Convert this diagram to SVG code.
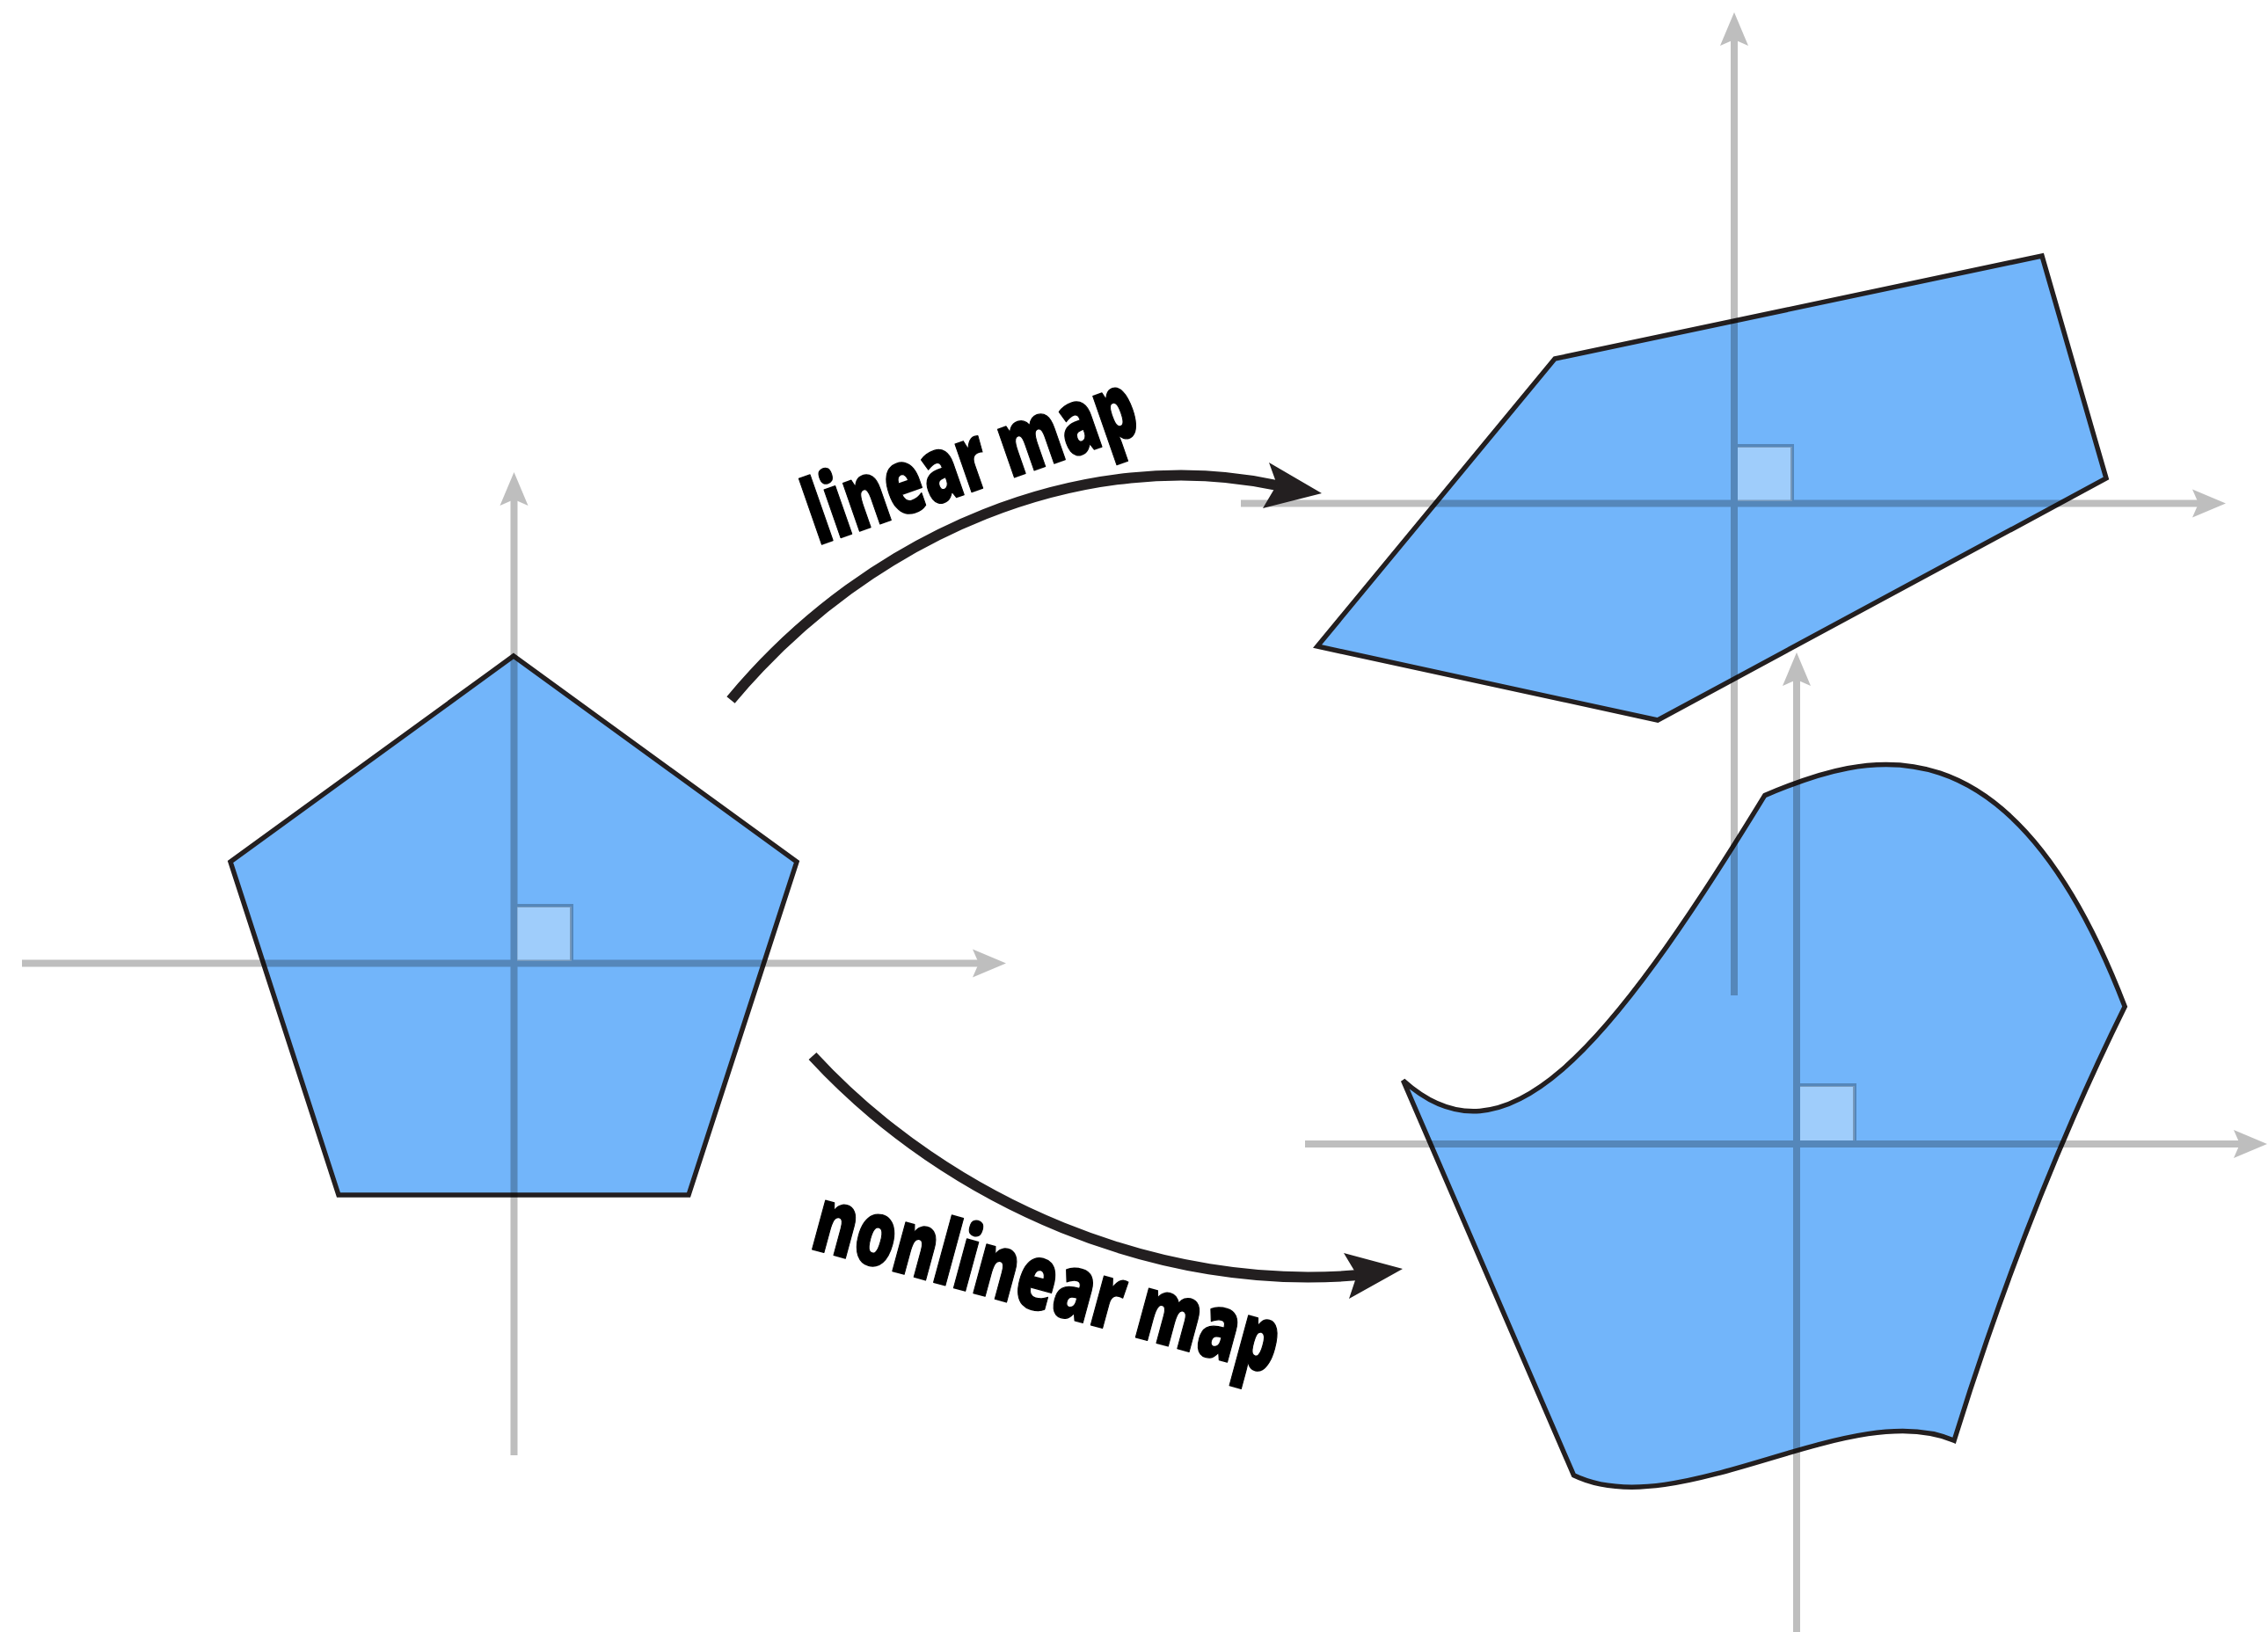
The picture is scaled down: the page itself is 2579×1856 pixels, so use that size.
<svg xmlns="http://www.w3.org/2000/svg" width="2579" height="1856" viewBox="0 0 2579 1856">
  <style>
    .shape { fill: #72B5FA; stroke: #231F20; stroke-width: 5.5; stroke-linejoin: miter; }
    .axis { stroke: #000; stroke-width: 8; fill: none; marker-end: url(#axhead); }
    .sqfill { fill: #fff; fill-opacity: 0.32; stroke: none; }
    .sqline { fill: none; stroke: #000; stroke-width: 4; }
    .arc { fill: none; stroke: #231F20; stroke-width: 12; }
    .head { fill: #231F20; stroke: none; }
    .label { font-family: "Open Sans", "Liberation Sans", sans-serif; font-weight: 800; font-size: 104px; fill: #000; stroke: #000; stroke-width: 1.5; stroke-linejoin: round; }
  </style>
  <defs>
    <marker id="axhead" markerUnits="userSpaceOnUse" viewBox="-8 -17 40 34" markerWidth="40" markerHeight="34" refX="0" refY="0" orient="auto" overflow="visible">
      <path d="M-7,-16 L31,0 L-7,16 L0,0 Z" fill="#000"/>
    </marker>
  </defs>
  <rect width="2579" height="1856" fill="#fff"/>

  <g id="pentagon">
    <polygon class="shape" points="584,746 906,980 783,1359 385,1359 262,980"/>
  </g>
  <g id="linear-image">
    <polygon class="shape" points="1768,408 2322,291 2395,544 1885,819 1498,735"/>
  </g>
  <g id="nonlinear-image">
    <path class="shape" d="M2006.7,904.6 C2121.8,855.3 2286.3,806 2416.2,1144.8 C2352.1,1274.7 2286.3,1431 2222.1,1638.2 C2105.3,1587.2 1908,1735.3 1789.5,1677.7 L1595.5,1228.7 C1710.6,1332.3 1825.7,1200.7 2006.7,904.6 Z"/>
  </g>

  <g id="squares-fill">
    <rect class="sqfill" x="588" y="1031" width="62" height="62"/>
    <rect class="sqfill" x="1976" y="508" width="62" height="62"/>
    <rect class="sqfill" x="2047" y="1235" width="62" height="62"/>
  </g>

  <g id="axes" opacity="0.25">
    <line class="axis" x1="25" y1="1095.5" x2="1113" y2="1095.5"/>
    <line class="axis" x1="584.5" y1="1655" x2="584.5" y2="568"/>
    <rect class="sqline" x="586" y="1030" width="64" height="64"/>

    <line class="axis" x1="1411" y1="572.5" x2="2500" y2="572.5"/>
    <line class="axis" x1="1972" y1="1132" x2="1972" y2="45"/>
    <rect class="sqline" x="1974" y="507" width="64" height="64"/>

    <line class="axis" x1="1484" y1="1301" x2="2547" y2="1301"/>
    <line class="axis" x1="2043" y1="1856" x2="2043" y2="773"/>
    <rect class="sqline" x="2045" y="1234" width="64" height="65"/>
  </g>

  <g id="connectors">
    <path class="arc" d="M831,796 C990,605 1235,505 1452,552"/>
    <polygon class="head" points="1503,561 1443,526 1452,551 1436,578"/>
    <path class="arc" d="M924,1201 C1080,1370 1320,1470 1545,1450"/>
    <polygon class="head" points="1595,1443 1528,1425 1543,1450 1534,1477"/>
  </g>

  <g id="labels">
    <text class="label" transform="translate(1115,556) rotate(-19.2)" text-anchor="middle" textLength="392" lengthAdjust="spacingAndGlyphs">linear map</text>
    <text class="label" transform="translate(1182,1491) rotate(15.2)" text-anchor="middle" textLength="545" lengthAdjust="spacingAndGlyphs">nonlinear map</text>
  </g>
</svg>
